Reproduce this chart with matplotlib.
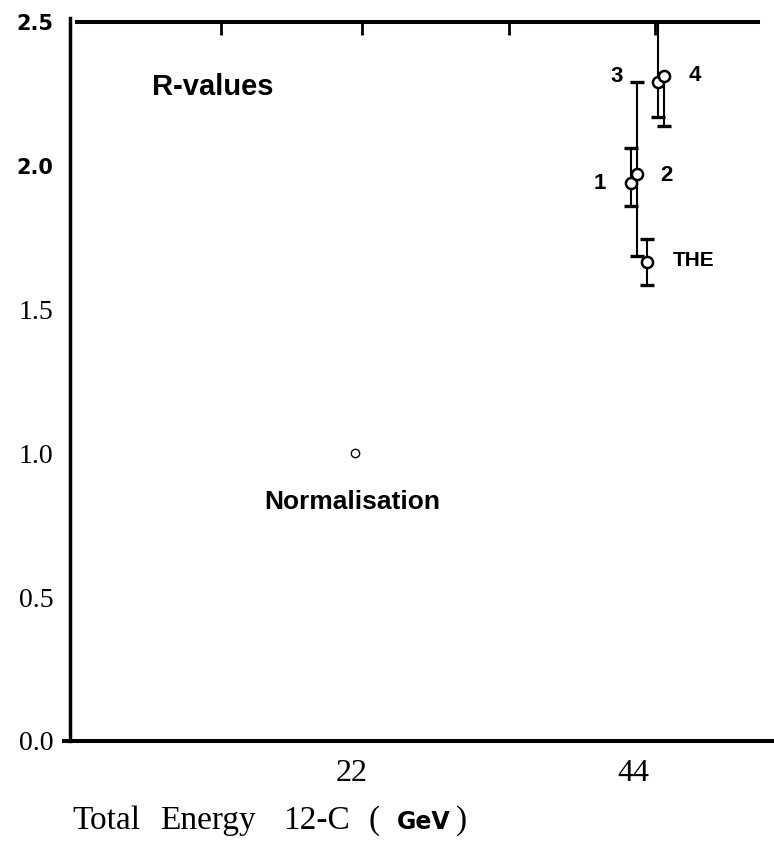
"""
R-values vs total energy (reproduction of a scanned plot)
"""

import matplotlib
matplotlib.use("Agg")
import matplotlib.pyplot as plt

# ---- data ----
norm_x = [22.3]
norm_y = [1.0]

pt_names = ["1", "2", "3", "4", "THE"]
pt_x = [43.8, 44.3, 45.9, 46.4, 45.1]
pt_y = [1.940, 1.971, 2.291, 2.312, 1.666]
pt_lo = [1.860, 1.686, 2.170, 2.138, 1.586]
pt_hi = [2.062, 2.291, 2.60, None, 1.745]   # None -> no upper bar drawn

# label anchor positions (data coords)
lab_x = [41.4, 46.6, 42.7, 48.8, 48.7]
lab_y = [1.94, 1.965, 2.309, 2.313, 1.669]

y_ticks = [0.0, 0.5, 1.0, 1.5, 2.0, 2.5]
y_labels = ["0.0", "0.5", "1.0", "1.5", "2.0", "2.5"]
x_ticks = [22, 44]
x_labels = ["22", "44"]
top_ticks = [11.8, 22.8, 34.3, 45.7]

# x axis title pieces and their left edges (pixels)
title_words = ["Total", "Energy", "12-C", "(", "GeV", ")"]
title_px = [72, 160, 283, 369, 397, 456]

SERIF = "Liberation Serif"
SANS = "Liberation Sans"

fig = plt.figure(figsize=(7.74, 8.51), dpi=100)
ax = fig.add_axes([70 / 774, 1 - 741 / 851, 704 / 774, 719 / 851])
ax.set_xlim(0, 55)
ax.set_ylim(0, 2.5)

# spines
ax.spines["right"].set_visible(False)
ax.spines["left"].set_linewidth(2.5)
ax.spines["bottom"].set_linewidth(2.9)
ax.spines["top"].set_linewidth(2.9)
ax.spines["top"].set_bounds(0.55, 53.75)
ax.spines["bottom"].set_bounds(-0.45, 55)
ax.spines["left"].set_bounds(0, 2.514)

# ticks
ax.set_yticks(y_ticks, y_labels)
ax.set_xticks(x_ticks, x_labels)
ax.set_xticks(top_ticks, minor=True)
ax.tick_params(axis="y", length=0, pad=12)
ax.tick_params(axis="x", which="major", length=0, pad=13, top=False)
ax.tick_params(axis="x", which="minor", bottom=False, top=True,
               direction="in", length=9, width=2)
for lab in ax.get_yticklabels():
    if lab.get_text() in ("2.0", "2.5"):
        lab.set_fontfamily("DejaVu Sans")
        lab.set_fontweight("bold")
        lab.set_fontsize(15)
    else:
        lab.set_fontfamily(SERIF)
        lab.set_fontsize(20)
for lab in ax.get_xticklabels():
    lab.set_fontfamily(SERIF)
    lab.set_fontsize(23)

# normalisation point
ax.plot(norm_x, norm_y, "o", ms=6, mfc="white", mec="black", mew=1.0,
        clip_on=False)

# error bars (drawn by hand so that one-sided bars are possible)
for x, y, lo, hi in zip(pt_x, pt_y, pt_lo, pt_hi):
    top = y if hi is None else hi
    ax.vlines(x, lo, top, color="black", lw=1.5, zorder=2)
    ax.plot([x], [lo], "_", ms=10, mew=2.4, color="black", zorder=2)
    if hi is not None and hi < 2.5:
        ax.plot([x], [hi], "_", ms=10, mew=2.4, color="black", zorder=2)

ax.plot(pt_x, pt_y, "o", ls="none", ms=8, mfc="white", mec="black",
        mew=1.8, zorder=3)

for name, x, y in zip(pt_names, lab_x, lab_y):
    ax.text(x, y, name, ha="center", va="center",
            fontsize=15 if name == "THE" else 16,
            fontweight="bold", family=SANS)

ax.text(11.17, 2.274, "R-values", ha="center", va="center", fontsize=21,
        fontweight="bold", family=SANS)
ax.text(22.03, 0.831, "Normalisation", ha="center", va="center",
        fontsize=19, fontweight="bold", family=SANS)

# x axis title, mixed fonts as in the original
yb = 1 - 829 / 851
for word, px in zip(title_words, title_px):
    if word == "GeV":
        fig.text(px / 774, yb, word, fontsize=17, family="DejaVu Sans",
                 fontweight="bold", va="baseline", ha="left")
    else:
        fig.text(px / 774, yb, word, fontsize=24, family=SERIF,
                 va="baseline", ha="left")

fig.savefig("out.png", dpi=100)
